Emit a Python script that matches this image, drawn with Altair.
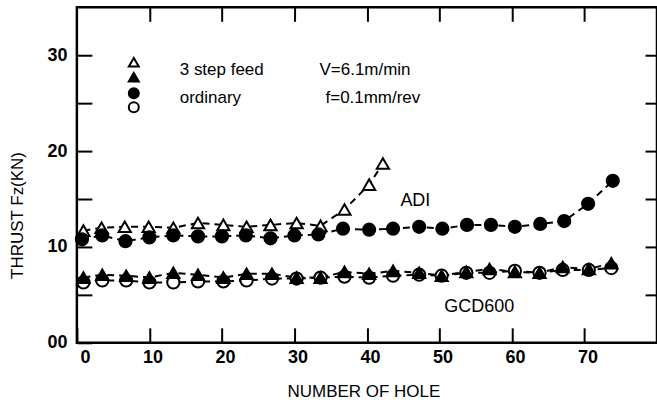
import altair as alt
import pandas as pd

# ADI, 3 step feed (open triangles)
adi_step_hole = [0.9, 3.4, 6.6, 9.9, 13.3, 16.7, 20.2, 23.4, 26.7, 30.3, 33.6, 36.9, 40.3, 42.2]
adi_step_thrust = [11.7, 12.0, 12.1, 12.1, 12.0, 12.5, 12.3, 12.1, 12.3, 12.5, 12.2, 13.9, 16.5, 18.7]

# ADI, ordinary (filled circles)
adi_ord_hole = [0.7, 3.5, 6.7, 10.0, 13.3, 16.7, 20.0, 23.3, 26.7, 30.0, 33.3, 36.7, 40.3,
                43.6, 47.2, 50.4, 53.8, 57.1, 60.4, 63.9, 67.2, 70.5, 73.9]
adi_ord_thrust = [10.8, 11.2, 10.6, 11.0, 11.2, 11.1, 11.1, 11.2, 10.9, 11.2, 11.3, 11.9, 11.8,
                  11.9, 12.1, 11.9, 12.3, 12.3, 12.1, 12.4, 12.7, 14.5, 16.9]

# GCD600, 3 step feed (filled triangles) and ordinary (open circles)
gcd_hole = [0.9, 3.5, 6.8, 10.0, 13.3, 16.7, 20.2, 23.4, 26.9, 30.3, 33.6, 36.9, 40.3,
            43.6, 47.2, 50.3, 53.7, 56.9, 60.4, 63.8, 67.0, 70.6, 73.7]
gcd_step_thrust = [6.8, 7.1, 7.0, 6.8, 7.3, 7.1, 6.8, 7.2, 7.2, 6.8, 6.8, 7.4, 7.2,
                   7.5, 7.3, 7.0, 7.4, 7.7, 7.4, 7.3, 7.9, 7.7, 8.3]
gcd_ord_thrust = [6.3, 6.5, 6.5, 6.3, 6.3, 6.4, 6.4, 6.5, 6.7, 6.7, 6.8, 6.9, 6.8,
                  7.0, 7.1, 7.0, 7.3, 7.3, 7.5, 7.3, 7.6, 7.6, 7.8]

x_bottom_values = [0, 10, 20, 30, 40, 50, 60, 70]
x_top_values = [10, 20, 30, 40, 50, 60, 70]
y_left_values = [0, 5, 10, 15, 20, 25, 30]
y_right_values = [5, 10, 15, 20, 25, 30]

legend_methods = ["3 step feed", "ordinary"]
legend_conditions = ["V=6.1m/min", "f=0.1mm/rev"]
material_labels = ["ADI", "GCD600"]

W, H = 581, 336
FONT = "Liberation Sans"
TICK = 15


def series(name, holes, thrusts):
    return pd.DataFrame({"hole": holes, "thrust": thrusts, "series": name})


df = pd.concat([
    series("adi_step", adi_step_hole, adi_step_thrust),
    series("adi_ord", adi_ord_hole, adi_ord_thrust),
    series("gcd_step", gcd_hole, gcd_step_thrust),
    series("gcd_ord", gcd_hole, gcd_ord_thrust),
], ignore_index=True)

x_scale = alt.Scale(domain=[0, 80], nice=False, zero=False)
y_scale = alt.Scale(domain=[0, 35], nice=False, zero=False)

# frame axes: ticks point inward (axis pulled inside by its tick length)
tick_common = dict(ticks=True, tickColor="black", tickWidth=2, domain=False, grid=False)

x_bottom = alt.Axis(orient="bottom", values=x_bottom_values, offset=-TICK, tickSize=TICK,
                    labelFontSize=18, labelFontWeight="bold", labelFont=FONT,
                    labelOffset=3, labelPadding=6, labelColor="black",
                    title="NUMBER OF HOLE", titleFontSize=17, titleFontWeight="normal",
                    titleFont=FONT, titleColor="black", titleX=287, titleY=64,
                    titleBaseline="middle", **tick_common)
y_left = alt.Axis(orient="left", values=y_left_values, offset=-TICK, tickSize=TICK,
                  labelFontSize=18, labelFontWeight="bold", labelFont=FONT,
                  labelPadding=10, labelColor="black",
                  labelExpr="datum.value == 0 ? '00' : (datum.value % 10 == 0 ? datum.label : '')",
                  title="THRUST Fz(KN)", titleFontSize=17, titleFontWeight="normal",
                  titleFont=FONT, titleColor="black", titleX=-74, titleY=208,
                  titleBaseline="middle", titleAngle=-90, **tick_common)
x_top = alt.Axis(orient="top", values=x_top_values, offset=-14, tickSize=14,
                 labels=False, title="", **tick_common)
y_right = alt.Axis(orient="right", values=y_right_values, offset=-12, tickSize=12,
                   labels=False, title="", **tick_common)

base = alt.Chart(df)

lines = base.mark_line(stroke="black", strokeWidth=2, strokeDash=[7, 5]).encode(
    x=alt.X("hole:Q", scale=x_scale, axis=x_bottom),
    y=alt.Y("thrust:Q", scale=y_scale, axis=y_left),
    detail="series:N",
)

def markers(name, shape, fill, x_axis=None, y_axis=None):
    return base.transform_filter(alt.datum.series == name).mark_point(
        shape=shape, filled=True, fill=fill, stroke="black", strokeWidth=2,
        size=150, opacity=1,
    ).encode(
        x=alt.X("hole:Q", scale=x_scale, axis=x_axis),
        y=alt.Y("thrust:Q", scale=y_scale, axis=y_axis),
    )

pts = [
    markers("adi_step", "triangle-up", "white", x_top, y_right),
    markers("adi_ord", "circle", "black"),
    markers("gcd_ord", "circle", "white"),
    markers("gcd_step", "triangle-up", "black"),
]

# key in the upper left corner
one = alt.Chart(pd.DataFrame({"k": [0]}))

def key_symbol(shape, fill, ypos):
    return one.mark_point(shape=shape, filled=True, fill=fill, stroke="black",
                          strokeWidth=2, size=100, opacity=1).encode(
        x=alt.value(57), y=alt.value(ypos))

key = [
    key_symbol("triangle-up", "white", 55),
    key_symbol("triangle-up", "black", 70),
    key_symbol("circle", "black", 86),
    key_symbol("circle", "white", 100),
]

text_style = dict(font=FONT, fontSize=17, color="black", align="left", baseline="middle")
key_text = [
    one.mark_text(**text_style).encode(x=alt.value(103), y=alt.value(63),
                                       text=alt.value(legend_methods[0])),
    one.mark_text(**text_style).encode(x=alt.value(103), y=alt.value(91),
                                       text=alt.value(legend_methods[1])),
    one.mark_text(**text_style).encode(x=alt.value(243), y=alt.value(63),
                                       text=alt.value(legend_conditions[0])),
    one.mark_text(**text_style).encode(x=alt.value(249), y=alt.value(91),
                                       text=alt.value(legend_conditions[1])),
]

label_style = dict(font=FONT, fontSize=18, color="black", align="center", baseline="middle")
mat_text = [
    one.mark_text(**label_style).encode(x=alt.value(339), y=alt.value(194),
                                        text=alt.value(material_labels[0])),
    one.mark_text(**label_style).encode(x=alt.value(403), y=alt.value(300),
                                        text=alt.value(material_labels[1])),
]

chart = alt.layer(lines, *pts, *key, *key_text, *mat_text).resolve_axis(
    x="independent", y="independent"
).properties(
    width=W, height=H,
    padding={"left": 77, "top": 7, "right": 0, "bottom": 70},
    autosize="none",
    background="white",
).configure_view(stroke="black", strokeWidth=2.5)

chart.save("out.html", embed_options={"renderer": "svg", "actions": False})
